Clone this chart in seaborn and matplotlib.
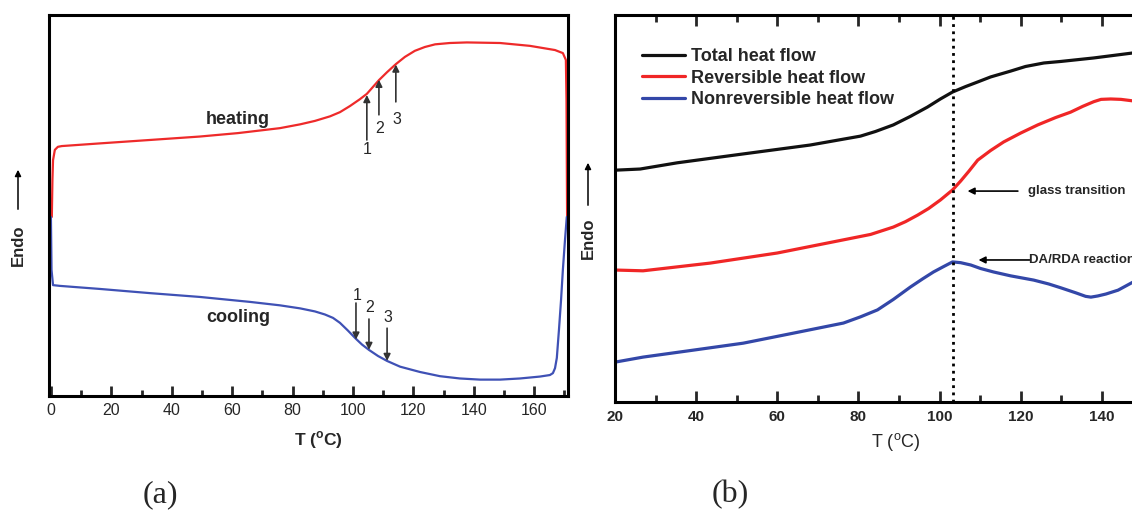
import matplotlib
matplotlib.use("Agg")
import matplotlib.pyplot as plt
import pandas as pd
import seaborn as sns
from matplotlib.ticker import MultipleLocator

# ---------------- Panel (a): DSC heating / cooling loop ----------------
heat_T = [0.3, 0.5, 0.7, 1.3, 2.3, 3.6, 16.2, 32.8, 49.3, 61.9, 75.8, 82.5, 87.4, 92.4,
          95.7, 99.0, 102.3, 104.6, 106.6, 108.6, 111.3, 114.2, 117.2, 120.5, 123.8,
          127.2, 132.1, 137.7, 148.7, 158.6, 166.9, 169.5, 170.5, 170.7, 170.9]
heat_y = [47.0, 56.7, 61.9, 64.6, 65.4, 65.6, 66.3, 67.2, 68.1, 69.0, 70.3, 71.3, 72.2, 73.4,
          74.5, 76.1, 77.9, 79.3, 81.1, 82.9, 85.0, 87.1, 89.0, 90.6, 91.6,
          92.3, 92.65, 92.8, 92.65, 91.9, 90.8, 90.0, 88.2, 77.7, 47.0]

cool_T = [170.8, 170.2, 169.5, 168.9, 168.2, 167.5, 166.9, 166.2, 165.2, 161.9, 155.3,
          148.7, 142.1, 135.4, 128.8, 122.2, 115.6, 111.3, 108.3, 105.3, 103.0, 101.0,
          98.3, 95.7, 93.4, 90.7, 87.4, 82.5, 75.8, 65.9, 49.3, 32.8, 16.2, 3.0, 0.7,
          0.2, 0.0]
cool_y = [47.0, 40.9, 33.1, 25.2, 17.3, 10.0, 7.3, 6.0, 5.5, 5.1, 4.6,
          4.3, 4.3, 4.6, 5.2, 6.3, 7.7, 9.2, 10.5, 12.1, 13.5, 15.0,
          17.2, 19.2, 20.5, 21.4, 22.2, 23.0, 23.8, 24.7, 26.0, 27.0, 28.1, 28.9, 29.1,
          33.1, 47.0]

a_xticks = [0, 20, 40, 60, 80, 100, 120, 140, 160]

# ---------------- Panel (b): modulated DSC signals ----------------
total_T = [20.0, 26.2, 35.3, 51.6, 68.1, 80.5, 84.2, 88.6, 92.8, 97.0, 100.2, 103.2,
           106.4, 109.4, 112.6, 117.5, 121.2, 125.7, 129.9, 138.0, 147.7, 152.0]
total_y = [59.9, 60.2, 61.8, 64.1, 66.4, 68.7, 69.9, 71.6, 73.8, 76.2, 78.3, 80.1,
           81.5, 82.7, 84.0, 85.5, 86.7, 87.6, 88.0, 88.9, 90.2, 90.8]

rev_T = [20.0, 26.9, 43.5, 60.0, 76.3, 83.0, 88.6, 91.6, 94.6, 97.3, 100.2, 103.2,
         105.2, 107.2, 109.4, 112.6, 115.8, 120.0, 124.2, 128.6, 132.3, 135.3, 138.0,
         139.8, 142.2, 144.7, 147.7, 152.0]
rev_y = [34.1, 33.9, 35.9, 38.5, 41.9, 43.3, 45.2, 46.6, 48.3, 50.0, 52.2, 54.8,
         57.1, 59.6, 62.5, 65.0, 67.2, 69.5, 71.6, 73.5, 74.9, 76.4, 77.6,
         78.2, 78.3, 78.2, 77.8, 77.0]

non_T = [20.0, 26.9, 39.3, 51.6, 64.0, 76.3, 80.5, 84.7, 88.6, 92.8, 95.8, 98.5, 101.0,
         103.2, 105.2, 107.7, 110.1, 113.3, 117.5, 123.2, 126.9, 129.9, 133.6, 136.0,
         137.3, 139.0, 141.0, 144.0, 147.7, 152.0]
non_y = [10.3, 11.6, 13.4, 15.2, 17.8, 20.4, 22.0, 23.8, 26.5, 29.7, 31.8, 33.6, 35.0,
         36.2, 36.0, 35.4, 34.5, 33.6, 32.6, 31.5, 30.5, 29.5, 28.2, 27.3,
         27.1, 27.4, 27.9, 28.9, 31.0, 33.5]

b_series = ["Total heat flow", "Reversible heat flow", "Nonreversible heat flow"]
b_xticks = [20, 40, 60, 80, 100, 120, 140]
tg_T = 103.2

# ---------------- data frames ----------------
df_a = pd.concat([
    pd.DataFrame({"T": heat_T, "y": heat_y, "run": "heating"}),
    pd.DataFrame({"T": cool_T, "y": cool_y, "run": "cooling"}),
], ignore_index=True)
df_b = pd.concat([
    pd.DataFrame({"T": total_T, "y": total_y, "series": b_series[0]}),
    pd.DataFrame({"T": rev_T, "y": rev_y, "series": b_series[1]}),
    pd.DataFrame({"T": non_T, "y": non_y, "series": b_series[2]}),
], ignore_index=True)

sns.set_style("white")
plt.rcParams["font.family"] = ["Liberation Sans", "DejaVu Sans"]
plt.rcParams["mathtext.fontset"] = "custom"
plt.rcParams["mathtext.rm"] = "Liberation Sans"
plt.rcParams["mathtext.bf"] = "Liberation Sans:bold"

W, H = 1132, 513
fig = plt.figure(figsize=(W / 100, H / 100), dpi=100)
fig.patch.set_facecolor("white")

axa = fig.add_axes([48.5 / W, 1 - 396 / H, 519.5 / W, 381 / H])
axb = fig.add_axes([615 / W, 1 - 402 / H, 568 / W, 387 / H])

# ---- panel a ----
sns.lineplot(data=df_a, x="T", y="y", hue="run", sort=False, estimator=None,
             palette={"heating": "#ee2a2a", "cooling": "#3f51b5"}, lw=1.6,
             legend=False, ax=axa)
axa.set_xlim(-0.8, 171.2)
axa.set_ylim(0, 100)
axa.set_xticks(a_xticks)
axa.xaxis.set_minor_locator(MultipleLocator(10))
axa.set_yticks([])
axa.set_ylabel("")
axa.set_xlabel(r"T ($^{\mathbf{o}}$C)", fontsize=12.5, fontweight="bold")
axa.xaxis.set_label_coords(0.52, -0.088)
axa.tick_params(axis="x", which="major", direction="in", length=7, width=2,
                labelsize=11.5, pad=5, bottom=True, top=False)
axa.tick_params(axis="x", which="minor", direction="in", length=4, width=2,
                bottom=True, top=False)
for s in axa.spines.values():
    s.set_linewidth(2.2)
    s.set_color("black")

axa.text(62, 72.5, "heating", fontsize=13, fontweight="bold", ha="center", va="center")
axa.text(62, 20.5, "cooling", fontsize=13, fontweight="bold", ha="center", va="center")

arr = dict(arrowstyle="-|>", color="#333333", lw=1.2, mutation_scale=10,
           shrinkA=0, shrinkB=0)
# heating arrows (pointing up)
for tip_T, tip_y, tail_y, lab_y, lab in [(104.6, 79.0, 67.2, 64.8, "1"),
                                         (108.6, 83.0, 73.8, 70.1, "2"),
                                         (114.2, 87.0, 77.2, 72.7, "3")]:
    axa.annotate("", xy=(tip_T, tip_y), xytext=(tip_T, tail_y), arrowprops=arr)
    axa.text(tip_T + 0.2, lab_y, lab, fontsize=11.5, ha="center", va="center")
# cooling arrows (pointing down)
for tip_T, tip_y, tail_y, lab_y, lab in [(101.0, 14.8, 24.4, 26.5, "1"),
                                         (105.3, 12.1, 20.2, 23.1, "2"),
                                         (111.3, 9.2, 17.8, 20.5, "3")]:
    axa.annotate("", xy=(tip_T, tip_y), xytext=(tip_T, tail_y), arrowprops=arr)
    axa.text(tip_T + 0.3, lab_y, lab, fontsize=11.5, ha="center", va="center")

# ---- panel b ----
sns.lineplot(data=df_b, x="T", y="y", hue="series", sort=False, estimator=None,
             palette={b_series[0]: "#111111", b_series[1]: "#f02626",
                      b_series[2]: "#3347a8"}, lw=2.3, ax=axb)
axb.axvline(tg_T, color="black", ls=(0, (1, 1.6)), lw=2)
axb.set_xlim(20, 160)
axb.set_ylim(0, 100)
axb.set_xticks(b_xticks)
axb.xaxis.set_minor_locator(MultipleLocator(10))
axb.set_yticks([])
axb.set_ylabel("")
axb.set_xlabel(r"T ($^{\mathrm{o}}$C)", fontsize=13)
axb.xaxis.set_label_coords(0.495, -0.075)
axb.tick_params(axis="x", which="major", direction="in", length=8, width=2,
                labelsize=11, pad=6, bottom=True, top=True)
axb.tick_params(axis="x", which="minor", direction="in", length=5, width=2,
                bottom=True, top=True)
for lab in axb.get_xticklabels():
    lab.set_fontweight("bold")
for s in axb.spines.values():
    s.set_linewidth(2.2)
    s.set_color("black")

leg = axb.legend(loc="upper left", bbox_to_anchor=(27 / 568, 0.915), frameon=False,
                 prop={"weight": "bold", "size": 13}, handlelength=2.4,
                 handletextpad=0.3, labelspacing=0.26, borderpad=0, borderaxespad=0)
for h in leg.get_lines():
    h.set_linewidth(2.3)

arrb = dict(arrowstyle="-|>", color="black", lw=1.2, mutation_scale=10,
            shrinkA=0, shrinkB=0)
axb.annotate("", xy=(106.9, 54.5), xytext=(119.3, 54.5), arrowprops=arrb)
axb.text(121.7, 54.5, "glass transition", fontsize=9.5, fontweight="bold",
         ha="left", va="center")
axb.annotate("", xy=(109.6, 36.7), xytext=(122.2, 36.7), arrowprops=arrb)
axb.text(122.0, 36.7, "DA/RDA reaction", fontsize=9.5, fontweight="bold",
         ha="left", va="center")

# ---- y labels "Endo" with arrows ----
for xc, yc, a0, a1 in [(18, 245, 212, 167), (588, 238, 208, 160)]:
    fig.text(xc / W, 1 - yc / H, "Endo", rotation=90, fontsize=12, fontweight="bold",
             ha="center", va="center")
    fig.add_artist(matplotlib.patches.FancyArrowPatch(
        (xc / W, 1 - a0 / H), (xc / W, 1 - a1 / H), transform=fig.transFigure,
        arrowstyle="-|>", mutation_scale=9, lw=1.1, color="black"))

# ---- captions ----
fig.text(160 / W, 1 - 495 / H, "(a)", fontsize=23, family="Liberation Serif",
         ha="center", va="center")
fig.text(730 / W, 1 - 495 / H, "(b)", fontsize=23, family="Liberation Serif",
         ha="center", va="center")

fig.savefig("out.png", dpi=100, facecolor="white")
